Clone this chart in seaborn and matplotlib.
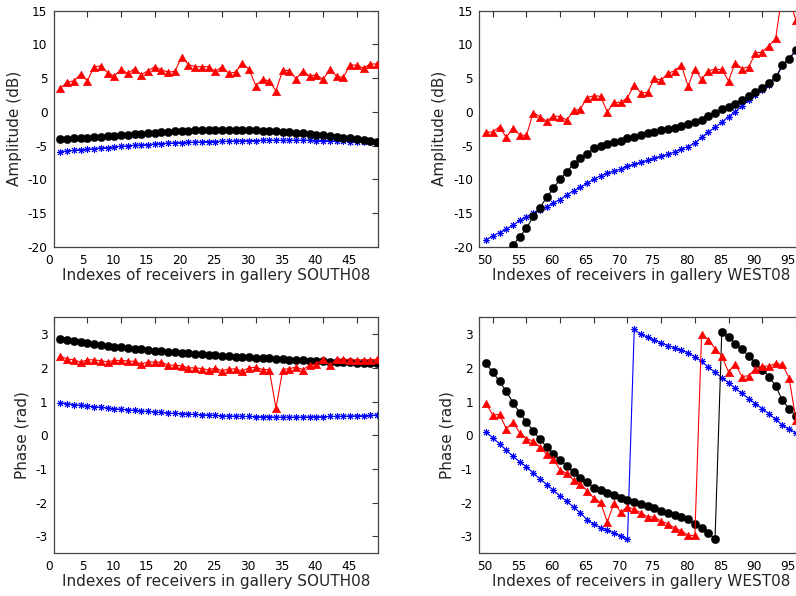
import matplotlib
matplotlib.use("Agg")
import matplotlib.pyplot as plt
import seaborn as sns
import pandas as pd
from matplotlib.transforms import ScaledTranslation

# ---------------- data ----------------
south_idx = list(range(1, 49))
west_idx = list(range(49, 97))

south_amp_red = [3.5, 4.4, 4.6, 5.6, 4.6, 6.7, 6.8, 5.8, 5.3, 6.3, 5.7, 6.4, 5.5, 6.1, 6.7, 6.2,
                 5.9, 6.0, 8.2, 7.0, 6.7, 6.7, 6.7, 6.0, 6.7, 5.7, 5.9, 7.2, 6.3, 3.9, 4.8, 4.6,
                 3.1, 6.2, 6.1, 4.9, 6.1, 5.3, 5.5, 4.8, 6.3, 5.3, 5.1, 7.0, 6.9, 6.5, 7.1, 7.1]
south_amp_black = [-4.1, -4.0, -3.95, -3.9, -3.85, -3.75, -3.7, -3.6, -3.55, -3.45, -3.4, -3.3,
                   -3.25, -3.15, -3.1, -3.0, -2.95, -2.9, -2.85, -2.8, -2.75, -2.7, -2.7, -2.65,
                   -2.65, -2.65, -2.65, -2.7, -2.7, -2.75, -2.8, -2.85, -2.9, -2.95, -3.05, -3.1,
                   -3.2, -3.3, -3.4, -3.5, -3.6, -3.7, -3.85, -3.95, -4.1, -4.2, -4.35, -4.45]
south_amp_blue = [-5.9, -5.8, -5.7, -5.6, -5.55, -5.45, -5.35, -5.3, -5.2, -5.1, -5.05, -4.95,
                  -4.9, -4.85, -4.75, -4.7, -4.65, -4.6, -4.55, -4.5, -4.5, -4.45, -4.4, -4.4,
                  -4.35, -4.35, -4.3, -4.3, -4.25, -4.25, -4.2, -4.2, -4.2, -4.2, -4.2, -4.2,
                  -4.2, -4.2, -4.25, -4.25, -4.3, -4.3, -4.35, -4.4, -4.4, -4.45, -4.5, -4.55]

west_amp_red = [-3.0, -3.0, -2.2, -3.8, -2.4, -3.4, -3.5, -0.1, -0.7, -1.4, -0.6, -0.7, -1.2, 0.2,
                0.4, 2.1, 2.4, 2.3, 0.0, 1.4, 1.4, 2.1, 4.0, 2.8, 2.9, 5.0, 4.7, 5.7, 6.1, 6.9,
                3.8, 6.4, 4.8, 6.1, 6.3, 6.3, 4.6, 7.3, 6.4, 6.7, 8.7, 8.9, 9.8, 10.9, 17.8, 16.8,
                13.6, 12.5]
west_amp_black = [-26.0, -24.5, -23.0, -21.3, -19.8, -18.5, -17.3, -15.5, -14.2, -12.7, -11.3,
                  -10.0, -8.9, -7.7, -6.9, -6.2, -5.4, -5.0, -4.8, -4.4, -4.3, -3.9, -3.7, -3.45,
                  -3.2, -2.95, -2.7, -2.55, -2.35, -2.1, -1.8, -1.5, -1.2, -0.65, -0.2, 0.35,
                  0.75, 1.2, 1.8, 2.35, 3.0, 3.55, 4.35, 5.1, 6.9, 7.9, 9.1, 10.5]
west_amp_blue = [-19.0, -18.4, -17.9, -17.4, -16.8, -16.1, -15.6, -15.05, -14.6, -14.1, -13.5,
                 -13.0, -12.3, -11.7, -11.2, -10.6, -10.0, -9.5, -9.1, -8.8, -8.5, -8.1, -7.8,
                 -7.5, -7.2, -6.9, -6.6, -6.3, -5.95, -5.5, -5.15, -4.6, -3.8, -3.0, -2.3, -1.55,
                 -0.7, 0.0, 0.9, 1.7, 2.5, 3.2, 4.0, 5.0, 6.9, 7.9, 9.1, 10.5]

south_ph_red = [2.35, 2.26, 2.24, 2.17, 2.24, 2.24, 2.21, 2.18, 2.22, 2.22, 2.21, 2.19, 2.11, 2.18,
                2.17, 2.17, 2.08, 2.08, 2.06, 2.0, 2.0, 1.98, 1.94, 2.0, 1.91, 1.97, 1.97, 1.91,
                2.0, 2.02, 1.95, 1.95, 0.80, 1.95, 1.98, 2.02, 1.95, 2.08, 2.11, 2.26, 2.08, 2.26,
                2.26, 2.24, 2.24, 2.24, 2.24, 2.26]
south_ph_black = [2.85, 2.82, 2.79, 2.76, 2.73, 2.71, 2.68, 2.66, 2.63, 2.61, 2.59, 2.57, 2.55,
                  2.53, 2.51, 2.49, 2.47, 2.46, 2.44, 2.43, 2.41, 2.40, 2.39, 2.37, 2.36, 2.35,
                  2.33, 2.32, 2.31, 2.30, 2.29, 2.28, 2.26, 2.25, 2.24, 2.23, 2.22, 2.21, 2.20,
                  2.19, 2.18, 2.17, 2.16, 2.16, 2.15, 2.14, 2.14, 2.13]
south_ph_blue = [0.97, 0.94, 0.91, 0.89, 0.87, 0.85, 0.83, 0.81, 0.79, 0.77, 0.76, 0.74, 0.72,
                 0.71, 0.69, 0.68, 0.66, 0.65, 0.64, 0.63, 0.62, 0.61, 0.60, 0.59, 0.58, 0.57,
                 0.57, 0.56, 0.56, 0.55, 0.55, 0.55, 0.54, 0.54, 0.54, 0.54, 0.54, 0.55, 0.55,
                 0.55, 0.56, 0.56, 0.57, 0.57, 0.58, 0.58, 0.59, 0.60]

west_ph_red = [0.95, 0.60, 0.62, 0.20, 0.38, 0.08, -0.10, -0.17, -0.35, -0.56, -0.70, -1.03,
               -1.13, -1.33, -1.44, -1.65, -1.86, -1.99, -2.57, -2.01, -2.28, -2.12,
               -2.2, -2.3, -2.42, -2.42, -2.55, -2.62, -2.75, -2.83, -2.97, -2.97,
               2.99, 2.84, 2.57, 2.35, 1.88, 2.12, 1.74, 1.77, 1.97, 2.06, 2.05, 2.13, 2.10,
               1.70, 0.46, 0.3]
west_ph_black = [2.13, 1.87, 1.6, 1.30, 0.97, 0.67, 0.39, 0.13, -0.12, -0.34, -0.54, -0.74,
                 -0.91, -1.09, -1.26, -1.40, -1.55, -1.63, -1.70, -1.77, -1.85, -1.91,
                 -1.97, -2.04, -2.10, -2.17, -2.24, -2.30, -2.36, -2.42, -2.48, -2.62, -2.76,
                 -2.90, -3.07, 3.07, 2.92, 2.72, 2.55, 2.35, 2.15, 1.95, 1.74, 1.46, 1.04, 0.79,
                 0.57, 0.35]
west_ph_blue = [0.10, -0.08, -0.25, -0.44, -0.62, -0.79, -0.93, -1.12, -1.29, -1.46, -1.63,
                -1.81, -1.96, -2.13, -2.30, -2.50, -2.64, -2.74, -2.81, -2.90, -2.99, -3.08,
                3.14, 2.99, 2.91, 2.82, 2.74, 2.66, 2.60, 2.52, 2.45, 2.33, 2.19, 2.02, 1.87,
                1.71, 1.56, 1.39, 1.24, 1.09, 0.94, 0.79, 0.64, 0.47, 0.30, 0.18, 0.07, -0.05]

south_xticks = [0, 5, 10, 15, 20, 25, 30, 35, 40, 45]
west_xticks = [50, 55, 60, 65, 70, 75, 80, 85, 90, 95]
amp_yticks = [-20, -15, -10, -5, 0, 5, 10, 15]
ph_yticks = [-3, -2, -1, 0, 1, 2, 3]
xlabel_south = "Indexes of receivers in gallery SOUTH08"
xlabel_west = "Indexes of receivers in gallery WEST08"

# ---------------- style ----------------
sns.set_style("white")
plt.rcParams["font.family"] = ["DejaVu Sans"]
plt.rcParams["axes.unicode_minus"] = False
LABEL_FS = 11
TICK_FS = 8.7

W, H = 796, 596
fig = plt.figure(figsize=(W / 100, H / 100), dpi=100)

def rect(l, t, r, b):
    return [l / W, 1 - b / H, (r - l) / W, (b - t) / H]

axes = {
    "tl": fig.add_axes(rect(53.7, 10.7, 377.7, 246.7)),
    "tr": fig.add_axes(rect(479.3, 10.7, 803.3, 246.7)),
    "bl": fig.add_axes(rect(53.7, 317.3, 377.7, 553.3)),
    "br": fig.add_axes(rect(479.3, 317.3, 803.3, 553.3)),
}

tri = [(0, 0.8), (-1, -1), (1, -1), (0, 0.8)]

def draw(ax, x, red, black, blue):
    sns.lineplot(x=x, y=blue, ax=ax, color="#0000ff", linewidth=0.8, marker=(8, 2, 0),
                 markersize=5.0, markeredgecolor="#0000ff", markeredgewidth=0.7,
                 markerfacecolor="#0000ff", zorder=2)
    sns.lineplot(x=x, y=black, ax=ax, color="black", linewidth=0.8, marker="o",
                 markersize=6.0, markeredgecolor="black", markeredgewidth=0.3,
                 markerfacecolor="black", zorder=3)
    sns.lineplot(x=x, y=red, ax=ax, color="#ff0000", linewidth=0.8, marker=tri,
                 markersize=6.2, markeredgecolor="#ff0000", markeredgewidth=0.3,
                 markerfacecolor="#ff0000", zorder=4)

draw(axes["tl"], south_idx, south_amp_red, south_amp_black, south_amp_blue)
draw(axes["tr"], west_idx, west_amp_red, west_amp_black, west_amp_blue)
draw(axes["bl"], south_idx, south_ph_red, south_ph_black, south_ph_blue)
draw(axes["br"], west_idx, west_ph_red, west_ph_black, west_ph_blue)

for key, ax in axes.items():
    left = key.endswith("l")
    top = key.startswith("t")
    ax.set_xlim((0, 48.1) if left else (48, 96.1))
    ax.set_xticks(south_xticks if left else west_xticks)
    if top:
        ax.set_ylim(-20, 15)
        ax.set_yticks(amp_yticks)
        ax.set_ylabel("Amplitude (dB)", fontsize=LABEL_FS)
        ax.yaxis.set_label_coords(-0.099, 0.5)
    else:
        ax.set_ylim(-3.5, 3.5)
        ax.set_yticks(ph_yticks)
        ax.set_ylabel("Phase (rad)", fontsize=LABEL_FS)
        ax.yaxis.set_label_coords(-0.076, 0.5)
    ax.set_xlabel(xlabel_south if left else xlabel_west, fontsize=LABEL_FS)
    ax.xaxis.set_label_coords(0.5, -0.089)
    ax.tick_params(direction="in", length=4, width=0.8, top=True, right=True,
                   labelsize=TICK_FS, colors="#333333", labelcolor="black")
    ax.tick_params(axis="y", pad=4.5)
    ax.tick_params(axis="x", pad=5.0)
    for s in ax.spines.values():
        s.set_visible(True)
        s.set_color("#444444")
        s.set_linewidth(0.9)
    for lab in ax.get_xticklabels():
        lab.set_horizontalalignment("right")
        lab.set_transform(lab.get_transform() +
                          ScaledTranslation(-0.5 / 100, 0, fig.dpi_scale_trans))

fig.savefig("out.png", dpi=100, facecolor="white")
